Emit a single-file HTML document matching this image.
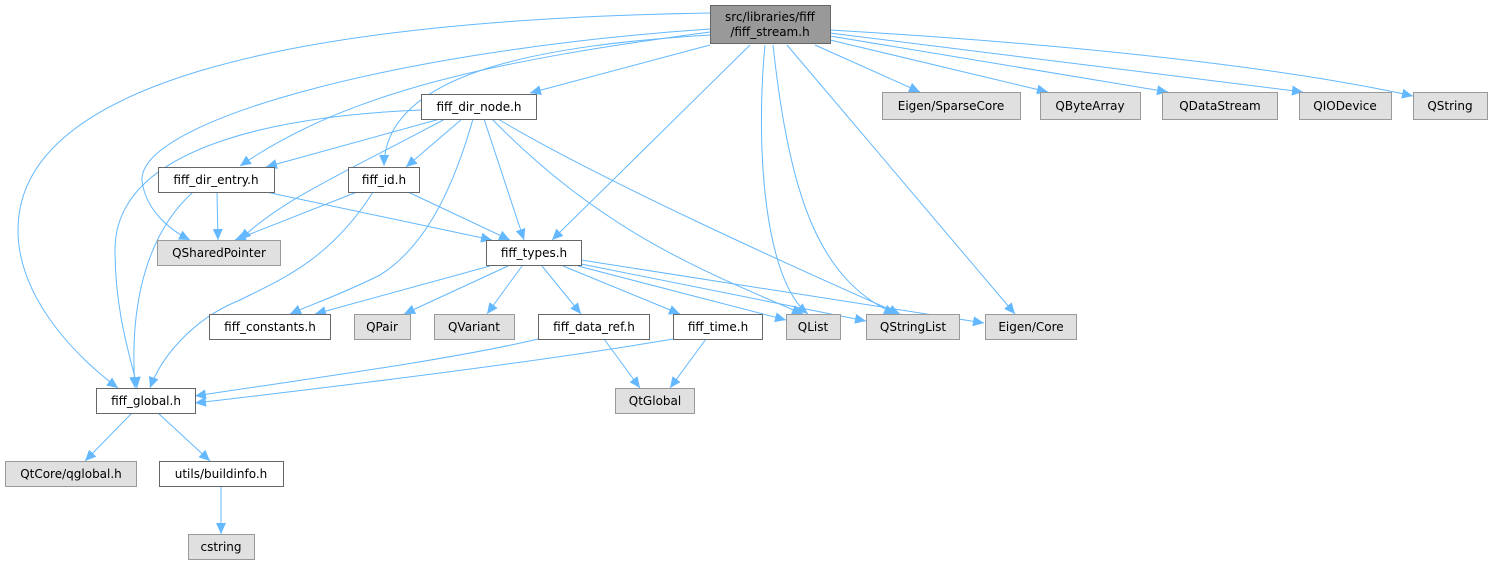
<!DOCTYPE html>
<html><head><meta charset="utf-8"><style>
html,body{margin:0;padding:0;background:#fff;width:1493px;height:564px;overflow:hidden}
svg{display:block}
text{font-family:"DejaVu Sans","Liberation Sans",sans-serif;font-size:12px;fill:#000}
</style></head><body>
<svg width="1493" height="564" viewBox="0 0 1493 564" xmlns="http://www.w3.org/2000/svg">
<defs>
<marker id="a" markerUnits="userSpaceOnUse" markerWidth="12" markerHeight="10" refX="11" refY="5" orient="auto">
<path d="M0,0 L11,5 L0,10 Z" fill="#63b8ff"/></marker>
</defs>
<g fill="none" stroke="#63b8ff" stroke-width="1" marker-end="url(#a)">
<path d="M710,13 C300,20 18,80 18,230 C18,300 80,360 118,388"/>
<path d="M710,29 C400,50 140,120 142,180 C145,210 170,230 190,240"/>
<path d="M710,32 C500,60 350,90 240,166"/>
<path d="M710,35 C550,45 385,70 384,166"/>
<path d="M710,45 L530,93"/>
<path d="M750,45 L552,240"/>
<path d="M765,45 C755,150 765,280 808,314"/>
<path d="M773,45 C790,200 820,280 895,314"/>
<path d="M787,45 L1015,314"/>
<path d="M815,45 L920,92"/>
<path d="M830,40 L1048,92"/>
<path d="M830,36 L1168,92"/>
<path d="M830,33 L1303,92"/>
<path d="M830,30 C1000,40 1250,60 1413,96"/>
<path d="M421,110 C300,115 115,140 115,250 C115,320 135,370 137,388"/>
<path d="M440,119 L266,167"/>
<path d="M445,119 C350,170 280,200 240,240"/>
<path d="M462,119 L406,167"/>
<path d="M473,119 C450,200 420,250 380,275 C340,295 310,305 290,314"/>
<path d="M484,119 L524,240"/>
<path d="M492,119 C600,230 700,270 803,314"/>
<path d="M498,119 C600,180 800,270 900,314"/>
<path d="M217,192 L218,240"/>
<path d="M193,192 C140,240 130,320 135,388"/>
<path d="M266,192 L492,240"/>
<path d="M357,192 L235,240"/>
<path d="M373,192 C330,260 280,280 240,300 C190,320 160,360 150,388"/>
<path d="M408,192 L510,240"/>
<path d="M490,266 L315,314"/>
<path d="M508,266 L404,314"/>
<path d="M522,266 L487,314"/>
<path d="M542,266 L581,314"/>
<path d="M563,266 L680,314"/>
<path d="M578,266 L786,320"/>
<path d="M581,264 L866,321"/>
<path d="M581,260 L984,323"/>
<path d="M538,339 C450,360 300,380 195,396"/>
<path d="M604,339 L640,388"/>
<path d="M673,339 C550,360 350,385 195,403"/>
<path d="M706,339 L670,388"/>
<path d="M132,413 L85,461"/>
<path d="M158,413 L210,461"/>
<path d="M221,487 L221,534"/>
</g>
<g stroke-width="1">
<rect x="710.5" y="5.5" width="120" height="38" fill="#999" stroke="#666"/>
<g fill="#fff" stroke="#666">
<rect x="421.5" y="94.5" width="115" height="25"/>
<rect x="158.5" y="167.5" width="116" height="25"/>
<rect x="348.5" y="167.5" width="71" height="25"/>
<rect x="486.5" y="240.5" width="95" height="25"/>
<rect x="209.5" y="314.5" width="121" height="25"/>
<rect x="538.5" y="314.5" width="111" height="25"/>
<rect x="673.5" y="314.5" width="89" height="25"/>
<rect x="96.5" y="388.5" width="99" height="25"/>
<rect x="159.5" y="461.5" width="124" height="25"/>
</g>
<g fill="#e0e0e0" stroke="#999">
<rect x="882.5" y="92.5" width="138" height="27"/>
<rect x="1040.5" y="92.5" width="100" height="27"/>
<rect x="1162.5" y="92.5" width="115" height="27"/>
<rect x="1299.5" y="92.5" width="92" height="27"/>
<rect x="1413.5" y="92.5" width="74" height="27"/>
<rect x="157.5" y="240.5" width="123" height="25"/>
<rect x="354.5" y="314.5" width="56" height="25"/>
<rect x="434.5" y="314.5" width="80" height="25"/>
<rect x="786.5" y="314.5" width="54" height="25"/>
<rect x="866.5" y="314.5" width="93" height="25"/>
<rect x="985.5" y="314.5" width="91" height="25"/>
<rect x="615.5" y="388.5" width="79" height="25"/>
<rect x="5.5" y="461.5" width="131" height="25"/>
<rect x="188.5" y="534.5" width="66" height="25"/>
</g>
</g>
<g text-anchor="middle">
<text x="770" y="21">src/libraries/fiff</text>
<text x="770" y="36">/fiff_stream.h</text>
<text x="479" y="111">fiff_dir_node.h</text>
<text x="216" y="184">fiff_dir_entry.h</text>
<text x="384" y="184">fiff_id.h</text>
<text x="534" y="257">fiff_types.h</text>
<text x="219" y="257">QSharedPointer</text>
<text x="270" y="331">fiff_constants.h</text>
<text x="382" y="331">QPair</text>
<text x="474" y="331">QVariant</text>
<text x="594" y="331">fiff_data_ref.h</text>
<text x="718" y="331">fiff_time.h</text>
<text x="813" y="331">QList</text>
<text x="913" y="331">QStringList</text>
<text x="1031" y="331">Eigen/Core</text>
<text x="951" y="110">Eigen/SparseCore</text>
<text x="1090" y="110">QByteArray</text>
<text x="1220" y="110">QDataStream</text>
<text x="1345" y="110">QIODevice</text>
<text x="1450" y="110">QString</text>
<text x="146" y="405">fiff_global.h</text>
<text x="655" y="405">QtGlobal</text>
<text x="71" y="478">QtCore/qglobal.h</text>
<text x="221" y="478">utils/buildinfo.h</text>
<text x="221" y="551">cstring</text>
</g>
</svg>
</body></html>
